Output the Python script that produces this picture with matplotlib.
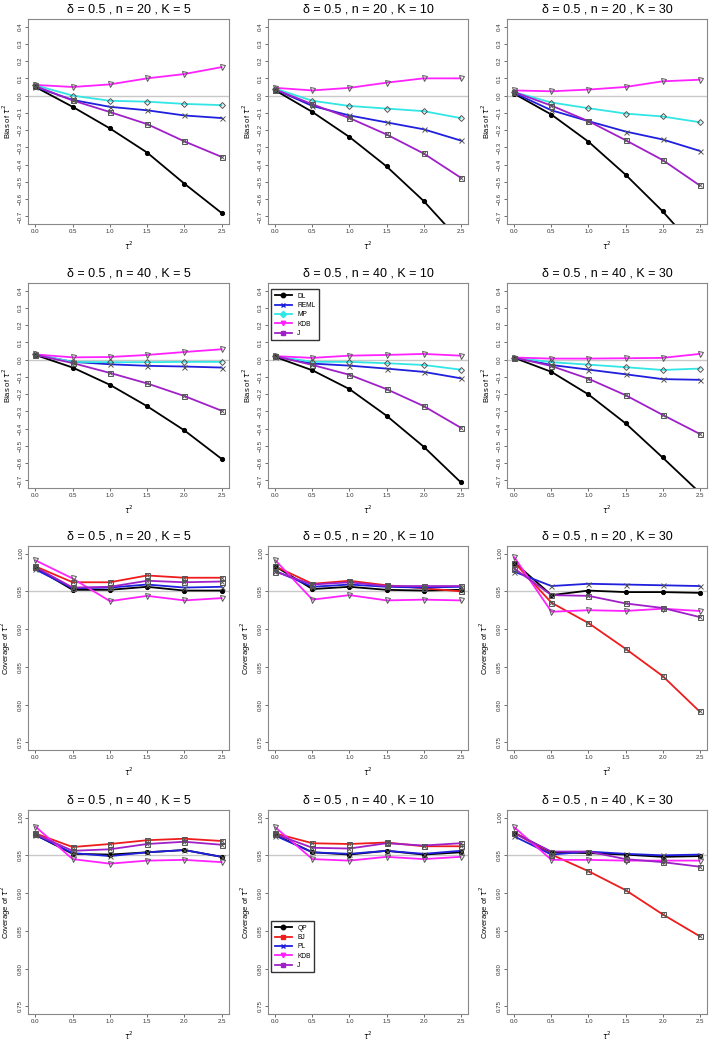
import matplotlib
matplotlib.use("Agg")
import matplotlib.pyplot as plt
from matplotlib.lines import Line2D

plt.rcParams["font.family"] = ["Liberation Sans", "DejaVu Sans"]

tau2 = [0.0, 0.5, 1.0, 1.5, 2.0, 2.5]

# bias of tau^2 (rows 1-2)
bias_n20_k5 = {
    "DL": [0.050, -0.065, -0.190, -0.330, -0.510, -0.680],
    "REML": [0.050, -0.025, -0.065, -0.085, -0.115, -0.130],
    "MP": [0.060, 0.000, -0.030, -0.035, -0.048, -0.055],
    "KDB": [0.062, 0.050, 0.065, 0.100, 0.125, 0.165],
    "J": [0.055, -0.028, -0.095, -0.165, -0.265, -0.355],
}
bias_n20_k10 = {
    "DL": [0.030, -0.095, -0.240, -0.410, -0.610, -0.845],
    "REML": [0.035, -0.060, -0.115, -0.155, -0.195, -0.260],
    "MP": [0.040, -0.030, -0.060, -0.075, -0.090, -0.130],
    "KDB": [0.045, 0.030, 0.045, 0.075, 0.100, 0.100],
    "J": [0.035, -0.050, -0.130, -0.225, -0.335, -0.475],
}
bias_n20_k30 = {
    "DL": [0.010, -0.110, -0.267, -0.458, -0.670, -0.910],
    "REML": [0.015, -0.085, -0.148, -0.208, -0.254, -0.320],
    "MP": [0.020, -0.040, -0.073, -0.104, -0.121, -0.154],
    "KDB": [0.030, 0.025, 0.035, 0.050, 0.083, 0.092],
    "J": [0.020, -0.058, -0.148, -0.258, -0.373, -0.520],
}
bias_n40_k5 = {
    "DL": [0.027, -0.046, -0.146, -0.270, -0.410, -0.575],
    "REML": [0.028, -0.013, -0.027, -0.036, -0.040, -0.046],
    "MP": [0.030, -0.013, -0.015, -0.015, -0.013, -0.013],
    "KDB": [0.030, 0.013, 0.015, 0.027, 0.044, 0.060],
    "J": [0.028, -0.020, -0.077, -0.138, -0.211, -0.296],
}
bias_n40_k10 = {
    "DL": [0.015, -0.062, -0.171, -0.325, -0.504, -0.710],
    "REML": [0.018, -0.023, -0.035, -0.052, -0.071, -0.108],
    "MP": [0.020, -0.013, -0.013, -0.021, -0.031, -0.058],
    "KDB": [0.020, 0.010, 0.023, 0.027, 0.033, 0.023],
    "J": [0.020, -0.031, -0.088, -0.171, -0.269, -0.394],
}
bias_n40_k30 = {
    "DL": [0.010, -0.071, -0.202, -0.369, -0.567, -0.770],
    "REML": [0.012, -0.031, -0.058, -0.085, -0.113, -0.117],
    "MP": [0.012, -0.015, -0.029, -0.044, -0.060, -0.052],
    "KDB": [0.012, 0.006, 0.006, 0.008, 0.010, 0.033],
    "J": [0.012, -0.037, -0.111, -0.206, -0.320, -0.430],
}

# coverage of tau^2 (rows 3-4)
cov_n20_k5 = {
    "QP": [0.981, 0.952, 0.952, 0.956, 0.951, 0.951],
    "BJ": [0.983, 0.962, 0.962, 0.971, 0.968, 0.968],
    "PL": [0.979, 0.954, 0.955, 0.959, 0.955, 0.956],
    "KDB": [0.991, 0.967, 0.937, 0.944, 0.938, 0.941],
    "J": [0.982, 0.955, 0.956, 0.964, 0.962, 0.963],
}
cov_n20_k10 = {
    "QP": [0.983, 0.953, 0.956, 0.952, 0.951, 0.952],
    "BJ": [0.983, 0.960, 0.964, 0.958, 0.954, 0.950],
    "PL": [0.977, 0.956, 0.959, 0.956, 0.955, 0.956],
    "KDB": [0.991, 0.939, 0.945, 0.938, 0.939, 0.938],
    "J": [0.976, 0.959, 0.962, 0.957, 0.957, 0.957],
}
cov_n20_k30 = {
    "QP": [0.988, 0.945, 0.951, 0.949, 0.949, 0.948],
    "BJ": [0.988, 0.935, 0.908, 0.874, 0.838, 0.791],
    "PL": [0.976, 0.957, 0.960, 0.959, 0.958, 0.957],
    "KDB": [0.995, 0.923, 0.925, 0.924, 0.927, 0.924],
    "J": [0.980, 0.945, 0.944, 0.934, 0.928, 0.916],
}
cov_n40_k5 = {
    "QP": [0.977, 0.952, 0.951, 0.954, 0.957, 0.948],
    "BJ": [0.979, 0.961, 0.965, 0.970, 0.972, 0.969],
    "PL": [0.977, 0.953, 0.949, 0.954, 0.957, 0.948],
    "KDB": [0.988, 0.945, 0.939, 0.943, 0.944, 0.941],
    "J": [0.978, 0.956, 0.958, 0.965, 0.968, 0.964],
}
cov_n40_k10 = {
    "QP": [0.977, 0.954, 0.951, 0.956, 0.951, 0.954],
    "BJ": [0.979, 0.966, 0.965, 0.967, 0.962, 0.962],
    "PL": [0.976, 0.954, 0.952, 0.956, 0.952, 0.956],
    "KDB": [0.987, 0.945, 0.943, 0.948, 0.945, 0.948],
    "J": [0.978, 0.960, 0.959, 0.966, 0.963, 0.966],
}
cov_n40_k30 = {
    "QP": [0.980, 0.954, 0.953, 0.951, 0.948, 0.949],
    "BJ": [0.980, 0.951, 0.929, 0.904, 0.872, 0.843],
    "PL": [0.975, 0.951, 0.955, 0.952, 0.950, 0.951],
    "KDB": [0.987, 0.944, 0.944, 0.943, 0.943, 0.943],
    "J": [0.979, 0.955, 0.955, 0.945, 0.941, 0.935],
}

bias_style = {
    "DL": ("black", "o", True),
    "REML": ("#1f1fdd", "x", False),
    "MP": ("#33e6e6", "D", False),
    "KDB": ("#ff22ff", "v", False),
    "J": ("#a020c8", "s", False),
}
cov_style = {
    "QP": ("black", "o", True),
    "BJ": ("#ee1c1c", "s", False),
    "PL": ("#1f1fdd", "x", False),
    "KDB": ("#ff22ff", "v", False),
    "J": ("#a020c8", "s", False),
}

W, H = 709, 1040
fig = plt.figure(figsize=(W / 100, H / 100), dpi=100)

col_x = [(28, 229), (268, 468), (507, 707)]
row_y = [(19, 224), (283, 488), (546, 750), (810, 1014)]


def add_panel(row, col):
    x0, x1 = col_x[col]
    y0, y1 = row_y[row]
    return fig.add_axes([x0 / W, 1 - y1 / H, (x1 - x0) / W, (y1 - y0) / H])


def draw(ax, data, style, title, ylab, ylim, ref, yticks, fmt):
    ax.axhline(ref, color="#c8c8c8", lw=1.0, zorder=1)
    for name, vals in data.items():
        color, marker, filled = style[name]
        ms = 3.0 if marker in ("o", "D") else 3.6
        ax.plot(tau2, vals, color=color, lw=1.3, zorder=2)
        ax.plot(tau2, vals, linestyle="none", marker=marker, ms=ms,
                mfc=color if filled else "none",
                mec="black" if filled else "#555555", mew=0.7, zorder=3)
        # square markers carry a cross inside, like R's pch 7
        if marker == "s":
            ax.plot(tau2, vals, linestyle="none", marker="x", ms=2.6,
                    mec="#555555", mew=0.6, zorder=4)
    pad = (ylim[1] - ylim[0]) * 0.04
    ax.set_ylim(ylim[0] - pad, ylim[1] + pad)
    ax.set_xlim(-0.1, 2.6)
    ax.set_xticks(tau2)
    ax.set_xticklabels([f"{v:.1f}" for v in tau2])
    ax.set_yticks(yticks)
    labels = [fmt.format(v).replace("-", "\u2212") for v in yticks]
    ax.set_yticklabels(labels, rotation=90, va="center")
    ax.tick_params(labelsize=4.4, length=2, width=0.5, pad=1.5, colors="#333333")
    for s in ax.spines.values():
        s.set_color("#888888")
        s.set_linewidth(0.8)
    ax.set_title(title, fontsize=9, pad=5)
    ax.set_xlabel(r"$\tau^2$", fontsize=5.5, labelpad=4)
    ax.set_ylabel(ylab, fontsize=5.5, labelpad=4)


ns = [20, 40]
ks = [5, 10, 30]
bias_sets = [[bias_n20_k5, bias_n20_k10, bias_n20_k30],
             [bias_n40_k5, bias_n40_k10, bias_n40_k30]]
cov_sets = [[cov_n20_k5, cov_n20_k10, cov_n20_k30],
            [cov_n40_k5, cov_n40_k10, cov_n40_k30]]

bias_ticks = [-0.7, -0.6, -0.5, -0.4, -0.3, -0.2, -0.1, 0.0, 0.1, 0.2, 0.3, 0.4]
cov_ticks = [0.75, 0.80, 0.85, 0.90, 0.95, 1.00]


def legend_handles(style):
    handles = []
    for name, (color, marker, filled) in style.items():
        handles.append(Line2D([0], [0], color=color, lw=1.3, marker=marker, ms=3.2,
                              mfc=color, mec=color, label=name))
    return handles


for i, n in enumerate(ns):
    for j, k in enumerate(ks):
        title = f"\u03b4 = 0.5 , n = {n} , K = {k}"
        ax = add_panel(i, j)
        draw(ax, bias_sets[i][j], bias_style, title, r"Bias of $\tau^2$",
             (-0.7, 0.4), 0.0, bias_ticks, "{:.1f}")
        if i == 1 and j == 1:
            ax.legend(handles=legend_handles(bias_style), loc="upper left",
                      bbox_to_anchor=(0.0, 0.985), fontsize=4.8, frameon=True,
                      fancybox=False, edgecolor="black", handlelength=2.6,
                      borderpad=0.5, labelspacing=0.35)
        ax = add_panel(i + 2, j)
        draw(ax, cov_sets[i][j], cov_style, title, r"Coverage of $\tau^2$",
             (0.75, 1.00), 0.95, cov_ticks, "{:.2f}")
        if i == 1 and j == 1:
            ax.legend(handles=legend_handles(cov_style), loc="upper left",
                      bbox_to_anchor=(0.0, 0.47), fontsize=4.8, frameon=True,
                      fancybox=False, edgecolor="black", handlelength=2.6,
                      borderpad=0.5, labelspacing=0.35)

fig.savefig("out.png", dpi=100)
